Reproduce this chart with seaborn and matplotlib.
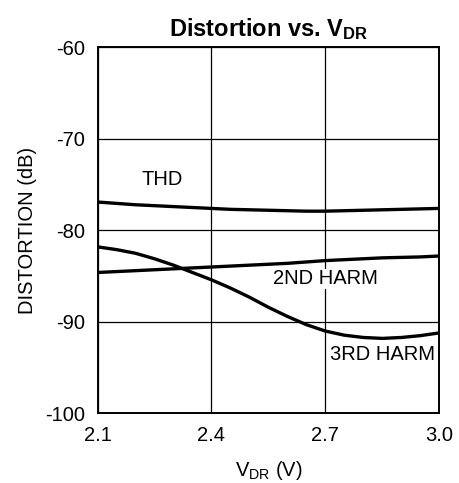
import matplotlib
matplotlib.use("Agg")
import matplotlib.pyplot as plt
import seaborn as sns
import pandas as pd

# Data
vdr = [2.10, 2.15, 2.20, 2.25, 2.30, 2.35, 2.40, 2.45, 2.50, 2.55,
       2.60, 2.65, 2.70, 2.75, 2.80, 2.85, 2.90, 2.95, 3.00]
thd = [-76.9, -77.05, -77.2, -77.3, -77.4, -77.5, -77.6, -77.7, -77.75, -77.8,
       -77.85, -77.9, -77.9, -77.85, -77.8, -77.75, -77.7, -77.65, -77.6]
harm2 = [-84.6, -84.5, -84.4, -84.3, -84.2, -84.1, -84.0, -83.9, -83.8, -83.7,
         -83.6, -83.45, -83.3, -83.2, -83.1, -83.0, -82.95, -82.9, -82.8]
harm3 = [-81.8, -82.1, -82.5, -83.1, -83.8, -84.6, -85.4, -86.3, -87.3, -88.4,
         -89.4, -90.3, -91.0, -91.45, -91.7, -91.8, -91.7, -91.5, -91.2]

series_names = ["THD", "2ND HARM", "3RD HARM"]
label_x = [2.27, 2.70, 2.85]
label_y = [-74.4, -85.3, -93.6]

x_ticks = [2.1, 2.4, 2.7, 3.0]
x_ticklabels = ["2.1", "2.4", "2.7", "3.0"]
y_ticks = [-100, -90, -80, -70, -60]
y_ticklabels = ["-100", "-90", "-80", "-70", "-60"]

sns.set_theme(style="white")
plt.rcParams['font.family'] = ['Liberation Sans', 'DejaVu Sans']
plt.rcParams['mathtext.fontset'] = 'custom'
plt.rcParams['mathtext.rm'] = 'Liberation Sans'
plt.rcParams['mathtext.it'] = 'Liberation Sans:italic'
plt.rcParams['mathtext.bf'] = 'Liberation Sans:bold'

df = pd.DataFrame({
    "V": vdr * 3,
    "dB": thd + harm2 + harm3,
    "series": sum([[n] * len(vdr) for n in series_names], []),
})

fig = plt.figure(figsize=(4.6, 4.83), dpi=100)
ax = fig.add_axes([0.212, 0.144, 0.743, 0.758])
sns.lineplot(data=df, x="V", y="dB", units="series", estimator=None,
             color="black", linewidth=2.4, ax=ax, legend=False, sort=True)

ax.set_xlim(2.1, 3.0)
ax.set_ylim(-100, -60)
ax.set_xticks(x_ticks)
ax.set_xticklabels(x_ticklabels)
ax.set_yticks(y_ticks)
ax.set_yticklabels(y_ticklabels)
ax.grid(True, color="black", linewidth=0.9)
for s in ax.spines.values():
    s.set_color("black")
    s.set_linewidth(1.4)
ax.tick_params(axis="both", length=0, labelsize=14.5, colors="black", pad=9)
ax.set_xlabel(r"V$_{\mathregular{DR}}$ (V)", fontsize=14.5, color="black", labelpad=10)
ax.set_ylabel("DISTORTION (dB)", fontsize=14.5, color="black", labelpad=6)
ax.set_title(r"Distortion vs. V$_{\mathbf{DR}}$", fontsize=17, fontweight="bold", color="black", pad=8)

for name, lx, ly in zip(series_names, label_x, label_y):
    ax.text(lx, ly, name, fontsize=14.5, color="black", ha="center", va="center",
            bbox=dict(facecolor="white", edgecolor="none", pad=0.5) if name != "THD" else None)

fig.savefig("out.png", dpi=100, facecolor="white")
